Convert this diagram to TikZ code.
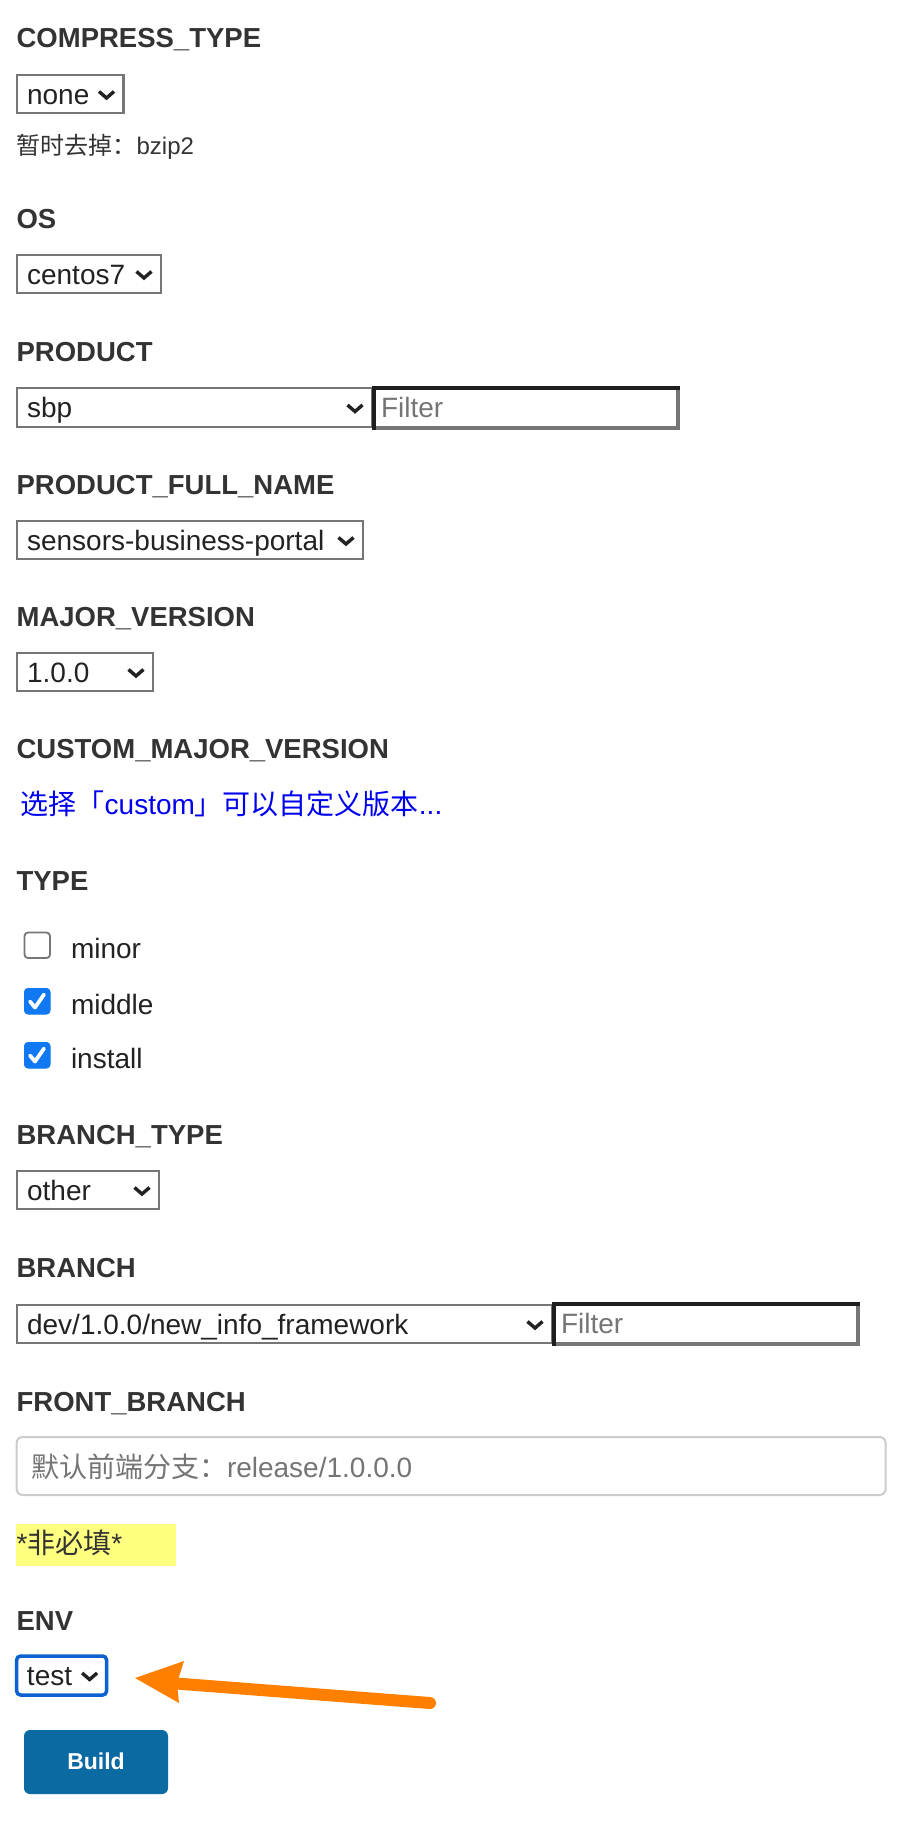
\documentclass[tikz,border=0pt]{standalone}
\usepackage{fontspec}
\setmainfont{Liberation Sans}
\newfontfamily\cjk{Noto Sans CJK SC}
\usetikzlibrary{calc}
\definecolor{labelc}{HTML}{333333}
\definecolor{optc}{HTML}{222222}
\definecolor{selborder}{HTML}{767676}
\definecolor{phc}{HTML}{757575}
\definecolor{linkc}{HTML}{0000EE}
\definecolor{cbblue}{HTML}{0F78F2}
\definecolor{focusblue}{HTML}{0E62D0}
\definecolor{hl}{HTML}{FFFF80}
\definecolor{buildc}{HTML}{0B6AA2}
\definecolor{arrowc}{HTML}{FF8000}
\definecolor{inputb}{HTML}{CCCCCC}
\definecolor{darkb}{HTML}{1E1E1E}
\newcommand\fs[1]{\fontsize{#1}{#1}\selectfont}
\tikzset{
  every node/.style={inner sep=0pt, outer sep=0pt},
  lbl/.style={anchor=base west, font=\bfseries\fs{27.5}, text=labelc},
  opt/.style={anchor=base west, font=\fs{28}, text=optc},
  ph/.style={anchor=base west, font=\fs{28}, text=phc},
  selbox/.style={anchor=north west, draw=selborder, line width=2.2pt, fill=white},
  chev/.style={draw=optc, line width=3.4pt, line join=miter, line cap=butt},
  cbox/.style={anchor=north west, minimum width=25.5pt, minimum height=25.5pt, rounded corners=3.5pt},
  cbempty/.style={cbox, draw=selborder, line width=1.8pt, fill=white},
  cbfull/.style={cbox, draw=cbblue, line width=1pt, fill=cbblue},
  tick/.style={draw=white, line width=3.8pt, line cap=round, line join=round},
}
\newcommand\mysel[6]{%
  \node[selbox, minimum width=#4pt-#2pt, minimum height=#5pt-#3pt] (#1) at (#2,#3) {};
  \node[opt] (#1-t) at ([shift={(10.5,29)}]#1.north west) {#6};
  \draw[chev] ([shift={(-24.5,-2.5)}]#1.east) -- ++(7.5,6.5) -- ++(7.5,-6.5);
}
\newcommand\myfilter[5]{%
  \node[anchor=north west, minimum width=#4pt-#2pt, minimum height=#5pt-#3pt, fill=white] (#1) at (#2,#3) {};
  \draw[selborder, line width=3.6pt] ([shift={(-1.8,0)}]#1.north east) -- ([shift={(-1.8,-1.8)}]#1.south east) -- ([shift={(0,-1.8)}]#1.south west);
  \draw[darkb, line width=3.6pt] ([shift={(1.8,0)}]#1.south west) -- ([shift={(1.8,1.8)}]#1.north west) -- ([shift={(0,1.8)}]#1.north east);
  \node[ph] (#1-t) at ([shift={(9,31)}]#1.north west) {Filter};
}
\begin{document}
\begin{tikzpicture}[x=1pt,y=-1pt]
\fill[white] (0,0) rectangle (916,1836);
\useasboundingbox (0,0) rectangle (916,1836);

% COMPRESS_TYPE
\node[lbl] (lcomp) at (16.6,48) {COMPRESS\_TYPE};
\mysel{sNone}{16.6}{75}{123.5}{113}{none}
\node[anchor=base west, font=\fs{24}, text=labelc] (hint) at (16.6,154) {{\cjk 暂时去掉：}bzip2};

% OS
\node[lbl] (los) at (16.6,228) {OS};
\mysel{sOs}{16.6}{255}{161}{293}{centos7}

% PRODUCT
\node[lbl] (lprod) at (16.6,361) {PRODUCT};
\mysel{sProd}{16.6}{388}{372}{427}{sbp}
\myfilter{fProd}{372}{386}{680}{430}

% PRODUCT_FULL_NAME
\node[lbl] (lpfn) at (16.6,494) {PRODUCT\_FULL\_NAME};
\mysel{sPfn}{16.6}{521}{363}{559}{sensors-business-portal}

% MAJOR_VERSION
\node[lbl] (lmv) at (16.6,626) {MAJOR\_VERSION};
\mysel{sMv}{16.6}{653}{153}{691}{1.0.0}

% CUSTOM_MAJOR_VERSION
\node[lbl] (lcmv) at (16.6,758) {CUSTOM\_MAJOR\_VERSION};
\node[anchor=base west, font=\fs{28}, text=linkc] (lnk) at (20.7,814) {{\cjk 选择「}custom{\cjk 」可以自定义版本}...};

% TYPE
\node[lbl] (ltype) at (16.6,890) {TYPE};
\node[cbempty] (cb1) at (24.5,932.5) {};
\node[opt] (cb1-t) at (71,958) {minor};
\node[cbfull] (cb2) at (24.5,988.5) {};
\draw[tick] ([shift={(5.5,13)}]cb2.north west) -- ++(5,6) -- ++(9,-13);
\node[opt] (cb2-t) at (71,1014) {middle};
\node[cbfull] (cb3) at (24.5,1042.5) {};
\draw[tick] ([shift={(5.5,13)}]cb3.north west) -- ++(5,6) -- ++(9,-13);
\node[opt] (cb3-t) at (71,1068) {install};

% BRANCH_TYPE
\node[lbl] (lbt) at (16.6,1144) {BRANCH\_TYPE};
\mysel{sBt}{16.6}{1171}{159}{1209}{other}

% BRANCH
\node[lbl] (lbr) at (16.6,1277) {BRANCH};
\mysel{sBr}{16.6}{1305}{552}{1343}{dev/1.0.0/new\_info\_framework}
\myfilter{fBr}{552}{1302}{860}{1346}

% FRONT_BRANCH
\node[lbl] (lfb) at (16.6,1411) {FRONT\_BRANCH};
\node[anchor=north west, draw=inputb, line width=2pt, rounded corners=6pt, minimum width=869pt, minimum height=58pt, fill=white] (inFb) at (16.6,1437) {};
\node[ph] (inFb-t) at (31,1477) {{\cjk 默认前端分支：}release/1.0.0.0};

\node[anchor=north west, fill=hl, minimum width=160pt, minimum height=42pt] (req) at (16,1524) {};
\node[anchor=base west, font=\fs{28}, text=labelc] (req-t) at (16.6,1553) {*{\cjk 非必填}*};

% ENV
\node[lbl] (lenv) at (16.6,1630) {ENV};
\node[anchor=north west, draw=focusblue, line width=3.5pt, rounded corners=4pt, minimum width=90pt, minimum height=39pt, fill=white] (sEnv) at (16.6,1656) {};
\node[opt] (sEnv-t) at (27,1685) {test};
\draw[chev] ([shift={(-24.5,-2.5)}]sEnv.east) -- ++(7.5,6.5) -- ++(7.5,-6.5);

% orange arrow
\coordinate (astart) at (430,1703);
\coordinate (abase) at (170,1683);
\coordinate (atip) at (135,1678);
\coordinate (aup) at (184,1661);
\coordinate (anotch) at (177,1683);
\coordinate (alow) at (179,1703);
\draw[arrowc, line width=12pt, line cap=round] (astart) -- (abase);
\fill[arrowc] (atip) -- (aup) -- (anotch) -- (alow) -- cycle;

% Build
\node[anchor=north west, fill=buildc, rounded corners=6pt, minimum width=144pt, minimum height=64pt] (build) at (24,1730) {};
\node[anchor=base, font=\bfseries\fs{23}, text=white] (build-t) at (96,1769) {Build};
\end{tikzpicture}
\end{document}
